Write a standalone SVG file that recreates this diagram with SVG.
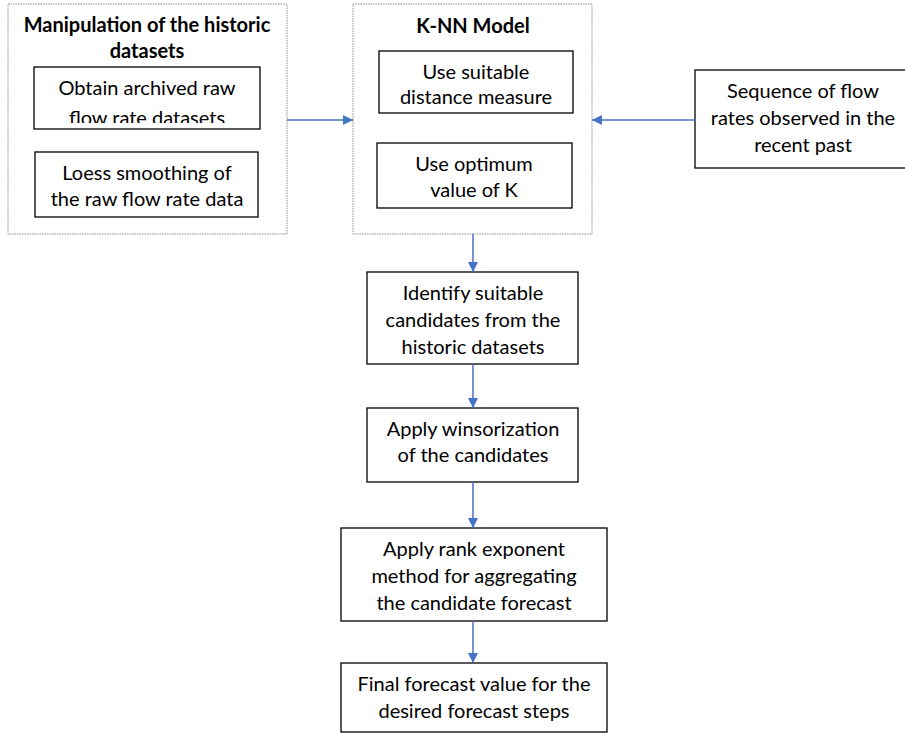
<svg xmlns="http://www.w3.org/2000/svg" width="905" height="733" viewBox="0 0 905 733">
<style>
.t{font-family:Lato,"Liberation Sans",sans-serif;font-size:20px;fill:#000;text-anchor:middle}
.b{font-weight:bold}
.box{fill:#fff;stroke:#000;stroke-width:1.3}
.grp{fill:#fff;stroke:#8c8c8c;stroke-width:1;stroke-dasharray:1.5 1}
.c{stroke:#4472C4;stroke-width:1.5;fill:none;marker-end:url(#ah)}
</style>
<defs>
<marker id="ah" viewBox="0 0 10 10" refX="10" refY="5" markerWidth="10" markerHeight="10" markerUnits="userSpaceOnUse" orient="auto">
<path d="M0,0 L10,5 L0,10 z" fill="#4472C4"/>
</marker>
<clipPath id="clip1"><rect x="34" y="67" width="226" height="56"/></clipPath>
</defs>
<g id="historic">
<rect class="grp" x="8" y="4" width="279" height="230"/>
<text class="t b" x="147" y="32">Manipulation of the historic</text>
<text class="t b" x="147" y="58">datasets</text>
</g>
<g id="obtain">
<rect class="box" x="34" y="67" width="226" height="62"/>
<g clip-path="url(#clip1)">
<text class="t" x="147" y="95">Obtain archived raw</text>
<text class="t" x="147" y="125">flow rate datasets</text>
</g>
</g>
<g id="loess">
<rect class="box" x="35" y="152" width="223" height="65"/>
<text class="t" x="147" y="180">Loess smoothing of</text>
<text class="t" x="147" y="206">the raw flow rate data</text>
</g>
<g id="knn">
<rect class="grp" x="353" y="4" width="239" height="230"/>
<text class="t b" x="473" y="33">K-NN Model</text>
</g>
<g id="distance">
<rect class="box" x="379" y="51" width="194" height="62"/>
<text class="t" x="476" y="79">Use suitable</text>
<text class="t" x="476" y="104">distance measure</text>
</g>
<g id="optk">
<rect class="box" x="377" y="143" width="195" height="65"/>
<text class="t" x="474" y="171">Use optimum</text>
<text class="t" x="474" y="197">value of K</text>
</g>
<g id="sequence">
<rect class="box" x="695" y="70" width="215" height="98"/>
<text class="t" x="803" y="98">Sequence of flow</text>
<text class="t" x="803" y="125">rates observed in the</text>
<text class="t" x="803" y="152">recent past</text>
</g>
<g id="identify">
<rect class="box" x="367" y="272" width="211" height="92"/>
<text class="t" x="473" y="300">Identify suitable</text>
<text class="t" x="473" y="327">candidates from the</text>
<text class="t" x="473" y="354">historic datasets</text>
</g>
<g id="winsor">
<rect class="box" x="367" y="408" width="211" height="74"/>
<text class="t" x="473" y="436">Apply winsorization</text>
<text class="t" x="473" y="462">of the candidates</text>
</g>
<g id="rank">
<rect class="box" x="341" y="528" width="266" height="93"/>
<text class="t" x="474" y="556">Apply rank exponent</text>
<text class="t" x="474" y="583">method for aggregating</text>
<text class="t" x="474" y="610">the candidate forecast</text>
</g>
<g id="final">
<rect class="box" x="341" y="663" width="266" height="69"/>
<text class="t" x="474" y="691">Final forecast value for the</text>
<text class="t" x="474" y="718">desired forecast steps</text>
</g>
<g id="connectors">
<line class="c" x1="287" y1="120" x2="353" y2="120"/>
<line class="c" x1="695" y1="120" x2="592" y2="120"/>
<line class="c" x1="473" y1="234" x2="473" y2="272"/>
<line class="c" x1="473" y1="364" x2="473" y2="408"/>
<line class="c" x1="473" y1="482" x2="473" y2="528"/>
<line class="c" x1="473" y1="621" x2="473" y2="663"/>
</g>
</svg>
